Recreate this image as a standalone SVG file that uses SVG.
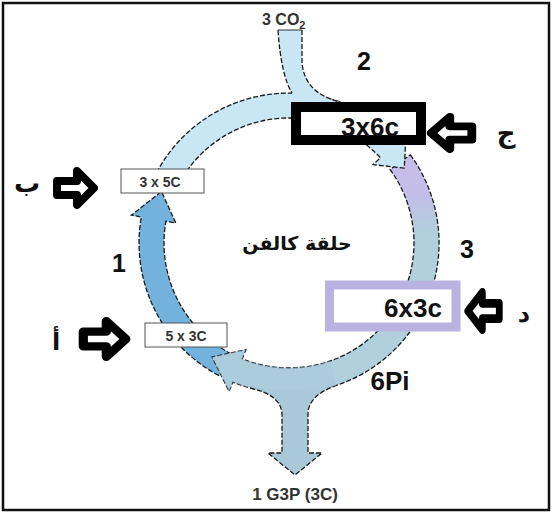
<svg xmlns="http://www.w3.org/2000/svg" width="552" height="513" viewBox="0 0 552 513">
<defs>
<linearGradient id="gRight" gradientUnits="userSpaceOnUse" x1="0" y1="165" x2="0" y2="235">
<stop offset="0" stop-color="#c7bfea"/><stop offset="0.4" stop-color="#c4bde9"/><stop offset="1" stop-color="#afd0dc"/>
</linearGradient>
<path id="blk" d="M-18,-7 L2,-7 L2,-17 L19,0 L2,17 L2,7 L-18,7 Z"/>
</defs>
<style>
.edge{stroke:#1a1a1a;stroke-width:1.3;stroke-dasharray:5 2;fill:none}
.band{stroke:#1a1a1a;stroke-width:1.3;stroke-dasharray:5 2}
.blk{fill:#fff;stroke:#000;stroke-width:8;stroke-linejoin:round}
.num{font-family:"Liberation Sans",Arial,sans-serif;font-weight:bold;fill:#111;text-anchor:middle}
.ar{font-family:"DejaVu Sans",sans-serif;font-weight:bold;fill:#111;text-anchor:middle}
.box{font-family:"Liberation Sans",Arial,sans-serif;font-weight:bold;fill:#333;text-anchor:middle}
.lbl{font-family:"Liberation Sans",Arial,sans-serif;font-weight:bold;fill:#333}
</style>
<rect width="552" height="513" fill="#fff"/>
<rect id="frame" x="3" y="3" width="546" height="507" fill="none" stroke="#111" stroke-width="2.5"/>

<g id="connectors">
  <path id="arc-left" class="band" fill="#72b2dc" d="M218.6,375.4 A150,150 0 0 1 141.3,217 L131.4,215.2 L161.5,191.5 L175.75,223 L165.9,221.3 A125,125 0 0 0 230.3,353.4 Z"/>
  <path id="arc-right" class="band" fill="url(#gRight)" d="M410.35,154.8 A150,150 0 0 1 232.8,382.1 L229.1,391.4 L212.1,357 L245.9,349.6 L242.2,358.9 A125,125 0 0 0 390.1,169.5 Z"/>
  <path id="arc-bottom-tint" fill="#a9c9d9" d="M336,385.8 A150,150 0 0 1 232.8,382.1 L229.1,391.4 L212.1,357 L245.9,349.6 L242.2,358.9 A125,125 0 0 0 330,361 Z" opacity="0.6"/>
  <path id="arc-top" class="band" fill="#c8e6f4" d="M156.6,172.6 A150,150 0 0 1 398.7,140.7 L406,133.9 L404.3,168.1 L373.1,164.6 L380.4,157.75 A125,125 0 0 0 178.6,184.3 Z"/>
  <g id="inlet">
    <path fill="#c8e6f4" d="M278,30 L302,30 L302,62 Q304,93 340,102 L340,105 A147,147 0 0 0 292,96 L292,93 Q281,75 278,30 Z"/>
    <path class="edge" d="M302,30 L302,62 Q304,93 340,102 M278,30 Q281,75 292,93"/>
    <path d="M278,30 L302,30" stroke="#333" stroke-width="1" fill="none"/>
  </g>
  <g id="outlet">
    <path fill="#a9c9d9" d="M250,388 Q282,395 282,415 L282,453 L268,453 L295,475 L322,453 L308,453 L308,412 Q310,395 335,386 L335,382.6 A147,147 0 0 1 250,384.7 Z"/>
    <path class="edge" d="M250,388 Q282,395 282,415 L282,453 L268,453 L295,475 L322,453 L308,453 L308,412 Q310,395 335,386"/>
  </g>
</g>

<g id="node-3x6c">
  <rect x="296" y="107" width="125" height="33" fill="#fff" stroke="#000" stroke-width="10"/>
  <text class="num" x="370" y="136" font-size="26">3x6c</text>
</g>
<g id="node-6x3c">
  <rect x="329.5" y="285" width="126.5" height="42" fill="#fff" stroke="#bab3e2" stroke-width="9"/>
  <text class="num" x="413" y="317" font-size="26">6x3c</text>
</g>
<g id="node-3x5C">
  <rect x="121" y="169" width="83" height="24" fill="#fff" stroke="#555" stroke-width="1"/>
  <text class="box" x="160" y="187" font-size="14">3 x 5C</text>
</g>
<g id="node-5x3C">
  <rect x="145" y="323" width="82" height="24" fill="#fff" stroke="#555" stroke-width="1"/>
  <text class="box" x="186" y="341" font-size="14">5 x 3C</text>
</g>

<g id="label-co2"><text class="lbl" x="262" y="25" font-size="16">3 CO<tspan font-size="11" dy="4">2</tspan></text></g>
<g id="label-g3p"><text class="lbl" x="295" y="500" font-size="17" text-anchor="middle">1 G3P (3C)</text></g>
<g id="label-center"><text class="ar" x="297" y="250" font-size="19">حلقة كالفن</text></g>
<g id="label-1"><text class="num" x="119" y="272" font-size="25">1</text></g>
<g id="label-2"><text class="num" x="364" y="70" font-size="25">2</text></g>
<g id="label-3"><text class="num" x="467" y="258" font-size="25">3</text></g>
<g id="label-6pi"><text class="num" x="390" y="390" font-size="26">6Pi</text></g>

<g id="pointer-b">
  <use href="#blk" class="blk" transform="translate(75,188)"/>
  <text class="ar" x="27" y="192" font-size="26">ب</text>
</g>
<g id="pointer-a">
  <use href="#blk" class="blk" transform="translate(104,339) scale(1.15,1.05)"/>
  <text class="ar" x="56" y="350" font-size="24" font-weight="normal" fill="#1a1a3a">أ</text>
</g>
<g id="pointer-j">
  <use href="#blk" class="blk" transform="translate(452,133) scale(-1.1,0.95)"/>
  <text class="ar" x="506" y="142" font-size="26">ج</text>
</g>
<g id="pointer-d">
  <use href="#blk" class="blk" transform="translate(484,311) scale(-0.85,1.1)"/>
  <text class="ar" x="524" y="322" font-size="24">د</text>
</g>
</svg>
